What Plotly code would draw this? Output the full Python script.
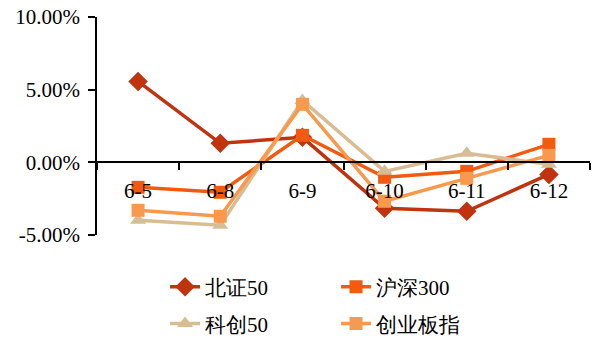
import plotly.graph_objects as go

categories = ["6-5", "6-8", "6-9", "6-10", "6-11", "6-12"]
bz50 = [5.57, 1.31, 1.72, -3.16, -3.37, -0.83]
hs300 = [-1.72, -2.06, 1.86, -1.03, -0.62, 1.24]
kc50 = [-3.99, -4.33, 4.26, -0.62, 0.62, -0.14]
cybz = [-3.30, -3.71, 3.99, -2.68, -1.10, 0.48]
y_ticks = [-5, 0, 5, 10]
y_tick_text = ["-5.00%", "0.00%", "5.00%", "10.00%"]

series = [
    ("北证50", bz50, "#C0330F", "diamond", 15, "legend"),
    ("沪深300", hs300, "#F25A10", "square", 13, "legend"),
    ("科创50", kc50, "#D8BC94", "triangle-up", 14, "legend2"),
    ("创业板指", cybz, "#F8994D", "square", 13, "legend2"),
]

font_family = "Liberation Serif"
fs = 21

fig = go.Figure()
for name, vals, color, sym, size, lg in series:
    fig.add_trace(go.Scatter(
        x=categories, y=vals, name=name, mode="lines+markers",
        line=dict(color=color, width=3.5),
        marker=dict(symbol=sym, size=size, color=color),
        legend=lg,
    ))

legend_common = dict(
    orientation="h", xanchor="left", yanchor="middle",
    entrywidth=126, entrywidthmode="pixels",
    font=dict(size=fs, family=font_family, color="black"),
    bgcolor="rgba(0,0,0,0)",
)

fig.update_layout(
    width=593, height=338,
    margin=dict(l=97, r=3, t=17, b=103, autoexpand=False),
    plot_bgcolor="white", paper_bgcolor="white",
    font=dict(family=font_family, size=fs, color="black"),
    showlegend=True,
    legend=dict(x=0.138, y=-0.2385, **legend_common),
    legend2=dict(x=0.138, y=-0.408, **legend_common),
    xaxis=dict(
        type="category", range=[-0.5, 5.5],
        anchor="free", position=1/3,
        showline=True, linecolor="black", linewidth=1.5,
        ticks="outside", tickson="boundaries", ticklen=7, tickcolor="black",
        tickwidth=1.5, showgrid=False, zeroline=False,
        ticklabelstandoff=10, automargin=False,
        tickfont=dict(size=fs, family=font_family),
    ),
    yaxis=dict(
        range=[-5, 10], tickvals=y_ticks, ticktext=y_tick_text,
        showline=True, linecolor="black", linewidth=1.5,
        ticks="outside", ticklen=7, tickcolor="black", tickwidth=1.5,
        showgrid=False, zeroline=False, ticklabeloverflow="allow",
        ticklabelstandoff=4, automargin=False,
        tickfont=dict(size=fs, family=font_family),
    ),
)

fig.write_html(
    "out.html",
    config={"displayModeBar": False},
    post_script="document.body.style.margin='0';",
)
